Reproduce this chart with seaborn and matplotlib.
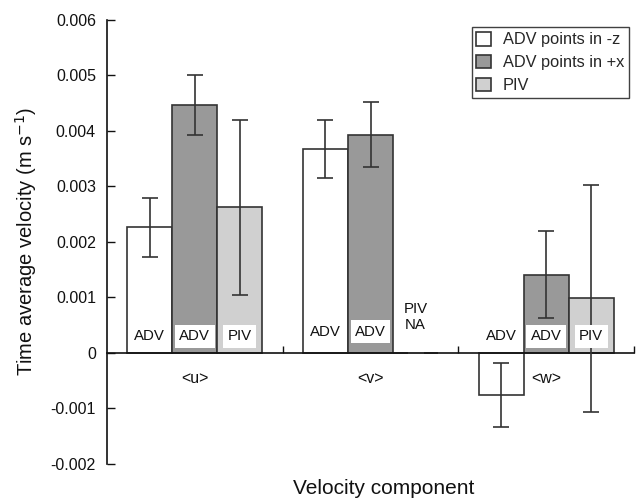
import matplotlib
matplotlib.use("Agg")
import matplotlib.pyplot as plt
import seaborn as sns
import pandas as pd
import numpy as np

# ---- data ----
components = ["<u>", "<v>", "<w>"]
series = ["ADV points in -z", "ADV points in +x", "PIV"]
adv_z = [0.00226, 0.00367, -0.00076]
adv_z_err = [0.00053, 0.00053, 0.00057]
adv_x = [0.00446, 0.00393, 0.00141]
adv_x_err = [0.00054, 0.00058, 0.00079]
piv = [0.00262, 0.0, 0.00098]          # PIV not available for <v>
piv_err = [0.00157, 0.0, 0.00204]
bar_labels = [["ADV", "ADV", "PIV"],
              ["ADV", "ADV", "PIV\nNA"],
              ["ADV", "ADV", "PIV"]]
yticks = [-0.002, -0.001, 0.0, 0.001, 0.002, 0.003, 0.004, 0.005, 0.006]
ytick_labels = ["-0.002", "-0.001", "0", "0.001", "0.002", "0.003", "0.004", "0.005", "0.006"]

sns.set_theme(style="ticks")
plt.rcParams['font.family'] = ['Liberation Sans', 'DejaVu Sans']

df = pd.DataFrame({
    "component": components * 3,
    "series": np.repeat(series, 3),
    "value": adv_z + adv_x + piv,
})
errs = [adv_z_err, adv_x_err, piv_err]
vals = [adv_z, adv_x, piv]

W, H = 636, 500
fig = plt.figure(figsize=(W / 100, H / 100), dpi=100)
ax = fig.add_axes([107 / W, 1 - 464 / H, (634 - 107) / W, (464 - 19.5) / H])

edge = "#333333"
ink = "#111111"
sns.barplot(data=df, x="component", y="value", hue="series", order=components,
            hue_order=series, palette=["white", "#999999", "#d0d0d0"],
            edgecolor=edge, linewidth=1.2, width=0.77, errorbar=None, ax=ax)

bar_conts = list(ax.containers)

# error bars at bar centres
for i, cont in enumerate(bar_conts):
    xs = [b.get_x() + b.get_width() / 2 for b in cont]
    ax.errorbar(xs, vals[i], yerr=errs[i], fmt="none", ecolor=edge,
                elinewidth=1.2, capsize=6, capthick=1.2, zorder=5)

# labels inside bars
group_label_y = [0.0003, 0.00038, 0.0003]
for i, cont in enumerate(bar_conts):
    for j, b in enumerate(cont):
        x = b.get_x() + b.get_width() / 2
        txt = bar_labels[j][i]
        y = group_label_y[j]
        if "\n" in txt:
            y = 0.00065
        kw = {}
        if i > 0 and "\n" not in txt:
            kw["bbox"] = dict(boxstyle="square,pad=0.3", fc="white", ec="none")
        ax.text(x, y, txt, ha="center", va="center", fontsize=10.8,
                color=ink, zorder=6, linespacing=1.15, **kw)

# component labels under the zero line
for j, c in enumerate(components):
    ax.text(j, -0.00047, c, ha="center", va="center", fontsize=11.5, color=ink)

ax.set_ylim(-0.002, 0.006)
ax.set_xlim(-0.5, 2.5)
ax.set_yticks(yticks)
ax.set_yticklabels(ytick_labels)
ax.set_xticks([0.5, 1.5, 2.5])
ax.set_xticklabels([])
ax.tick_params(axis="y", direction="in", length=6, width=1, pad=8, labelsize=11.5, colors=ink)
ax.tick_params(axis="x", direction="in", length=5, width=1, colors=ink)
ax.spines["bottom"].set_position(("data", 0))
ax.spines["top"].set_visible(False)
ax.spines["right"].set_visible(False)
for s in ["left", "bottom"]:
    ax.spines[s].set_color(ink)
    ax.spines[s].set_linewidth(1.2)

ax.set_ylabel("Time average velocity (m s$^{-1}$)", fontsize=14.5, color=ink, labelpad=8)
fig.text((107 + 634) / 2 / W + 0.02, 1 - 488 / H, "Velocity component", ha="center",
         va="center", fontsize=15, color=ink)
ax.set_xlabel("")

handles, labels = ax.get_legend_handles_labels()
if ax.get_legend() is not None:
    ax.get_legend().remove()
leg = ax.legend(handles, labels, loc="upper right", bbox_to_anchor=(629 / W, 1 - 27 / H),
                bbox_transform=fig.transFigure, borderaxespad=0, fontsize=11.8,
                handlelength=0.9, handleheight=0.9, handletextpad=0.7,
                labelspacing=0.45, borderpad=0.3, fancybox=False, frameon=True)
leg.get_frame().set_edgecolor(ink)
leg.get_frame().set_linewidth(1.0)

fig.savefig("out.png", dpi=100)
